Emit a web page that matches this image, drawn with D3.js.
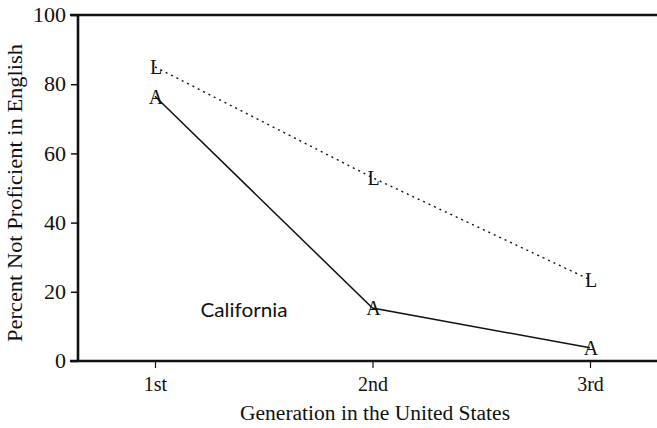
<!DOCTYPE html>
<html>
<head>
<meta charset="utf-8">
<script src="https://cdn.jsdelivr.net/npm/d3@7"></script>
<style>
  html, body { margin: 0; padding: 0; background: #fff; }
  svg { display: block; }
</style>
</head>
<body>
<svg id="chart" width="657" height="428" font-family="Liberation Serif, Times New Roman, serif"></svg>
<script>
const generations = ["1st", "2nd", "3rd"];
const seriesA = [76.5, 15.3, 3.8];
const seriesL = [85, 53, 23.5];
const yTicks = [0, 20, 40, 60, 80, 100];
const yTitle = "Percent Not Proficient in English";
const xTitle = "Generation in the United States";
const regionLabel = "California";

const serif = "Liberation Serif, Times New Roman, serif";
const ink = "#111";
const svg = d3.select("#chart");
const mLeft = 78, mRight = 657, mTop = 15, mBottom = 361;

const x = d3.scalePoint().domain(generations).range([155, 590]);
const y = d3.scaleLinear().domain([0, 100]).range([mBottom, mTop]);

// Y axis
const yAxis = svg.append("g").attr("transform", `translate(${mLeft},0)`)
  .call(d3.axisLeft(y).tickValues(yTicks).tickSize(7).tickPadding(5));
yAxis.attr("font-family", serif).attr("font-size", 21);
yAxis.select(".domain").remove();
yAxis.selectAll(".tick line").attr("stroke", ink).attr("stroke-width", 1.5);
yAxis.selectAll(".tick text").attr("fill", ink).attr("textLength", d => String(d).length * 11).attr("lengthAdjust", "spacingAndGlyphs");

// X axis
const xAxis = svg.append("g").attr("transform", `translate(0,${mBottom})`)
  .call(d3.axisBottom(x).tickSize(7).tickPadding(9));
xAxis.attr("font-family", serif).attr("font-size", 20);
xAxis.select(".domain").remove();
xAxis.selectAll(".tick line").attr("stroke", ink).attr("stroke-width", 1.2);
xAxis.selectAll(".tick text").attr("fill", ink);

// Frame lines
svg.append("line").attr("x1", mLeft).attr("x2", mLeft).attr("y1", mTop - 1).attr("y2", mBottom + 1)
  .attr("stroke", ink).attr("stroke-width", 2.6);
svg.append("line").attr("x1", 70).attr("x2", mRight).attr("y1", mTop).attr("y2", mTop)
  .attr("stroke", ink).attr("stroke-width", 2.6);
svg.append("line").attr("x1", 70).attr("x2", mRight).attr("y1", mBottom).attr("y2", mBottom)
  .attr("stroke", ink).attr("stroke-width", 2.6);

// Lines
const line = d3.line().x((d, i) => x(generations[i])).y(d => y(d));
svg.append("path").datum(seriesL).attr("d", line).attr("fill", "none")
  .attr("stroke", ink).attr("stroke-width", 1.4).attr("stroke-dasharray", "2,4");
svg.append("path").datum(seriesA).attr("d", line).attr("fill", "none")
  .attr("stroke", ink).attr("stroke-width", 1.5);

// Letter markers
function markers(data, letter) {
  svg.append("g").selectAll("text").data(data).join("text")
    .attr("x", (d, i) => x(generations[i]) + 1)
    .attr("y", d => y(d))
    .attr("dy", "0.36em")
    .attr("text-anchor", "middle")
    .attr("font-size", 20)
    .attr("fill", ink)
    .text(letter);
}
markers(seriesL, "L");
markers(seriesA, "A");

// Region label
svg.append("text").attr("x", 244).attr("y", 317).attr("text-anchor", "middle")
  .attr("font-family", "Lato, 'Open Sans', sans-serif").attr("font-size", 19)
  .attr("textLength", 87).attr("lengthAdjust", "spacingAndGlyphs")
  .attr("fill", ink).text(regionLabel);

// Axis titles
svg.append("text").attr("x", 375).attr("y", 420).attr("text-anchor", "middle")
  .attr("font-size", 20).attr("textLength", 270).attr("lengthAdjust", "spacingAndGlyphs")
  .attr("fill", ink).text(xTitle);
svg.append("text").attr("transform", `translate(22,193) rotate(-90)`)
  .attr("text-anchor", "middle").attr("font-size", 20)
  .attr("textLength", 298).attr("lengthAdjust", "spacingAndGlyphs")
  .attr("fill", ink).text(yTitle);
</script>
</body>
</html>
